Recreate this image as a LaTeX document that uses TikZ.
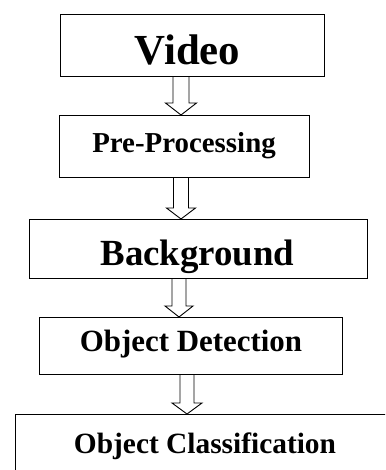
\documentclass[tikz,border=0pt]{standalone}
\usepackage{fontspec}
\setmainfont{Liberation Serif}
\usetikzlibrary{calc}
\tikzset{
  stage/.style={draw=black, line width=1.1bp, inner sep=0pt, anchor=north west},
  caption/.style={inner sep=0pt, anchor=base, font=\bfseries},
  hollow/.style={draw=black, line width=0.9bp, fill=white, line join=miter},
}
% hollow block arrow: #1 from node, #2 to node, #3 centre coordinate,
% #4 shaft half width, #5 head half width, #6 head length
\newcommand\hollowarrow[6]{%
  \draw[hollow]
    ([xshift=-#4]#3 |- #1.south) --
    ([xshift=-#4,yshift=#6]#3 |- #2.north) --
    ([xshift=-#5,yshift=#6]#3 |- #2.north) --
    (#3 |- #2.north) --
    ([xshift=#5,yshift=#6]#3 |- #2.north) --
    ([xshift=#4,yshift=#6]#3 |- #2.north) --
    ([xshift=#4]#3 |- #1.south);}
\begin{document}
\begin{tikzpicture}[x=1bp, y=-1bp]
  \useasboundingbox (0,0) rectangle (385,470);
  \clip (0,0) rectangle (385,470);

  % stage boxes
  \node[stage, minimum width=264bp, minimum height=62bp] (video) at (60,14) {};
  \node[stage, minimum width=250bp, minimum height=62bp] (pre) at (59,115) {};
  \node[stage, minimum width=338bp, minimum height=59bp] (bg) at (29,219) {};
  \node[stage, minimum width=303bp, minimum height=57bp] (det) at (39,317) {};
  \node[stage, minimum width=390bp, minimum height=80bp] (cls) at (15,414) {};

  % captions
  \node[caption, font=\bfseries\fontsize{43}{43}\selectfont] (tvideo) at (187.5,65) {Video};
  \node[caption, font=\bfseries\fontsize{29}{29}\selectfont] (tpre) at (184,153) {Pre-Processing};
  \node[caption, font=\bfseries\fontsize{37}{37}\selectfont] (tbg) at (197.5,265) {Background};
  \node[caption, font=\bfseries\fontsize{31}{31}\selectfont] (tdet) at (191,351) {Object Detection};
  \node[caption, font=\bfseries\fontsize{29.5}{29.5}\selectfont] (tcls) at (205,453) {Object Classification};

  % arrow axes
  \coordinate (a1) at (181,0);
  \coordinate (a2) at (181,0);
  \coordinate (a3) at (179,0);
  \coordinate (a4) at (187,0);

  \hollowarrow{video}{pre}{a1}{8bp}{15.5bp}{12bp}
  \hollowarrow{pre}{bg}{a2}{7.5bp}{14.5bp}{11bp}
  \hollowarrow{bg}{det}{a3}{7bp}{14bp}{11bp}
  \hollowarrow{det}{cls}{a4}{7bp}{15bp}{11bp}
\end{tikzpicture}
\end{document}
